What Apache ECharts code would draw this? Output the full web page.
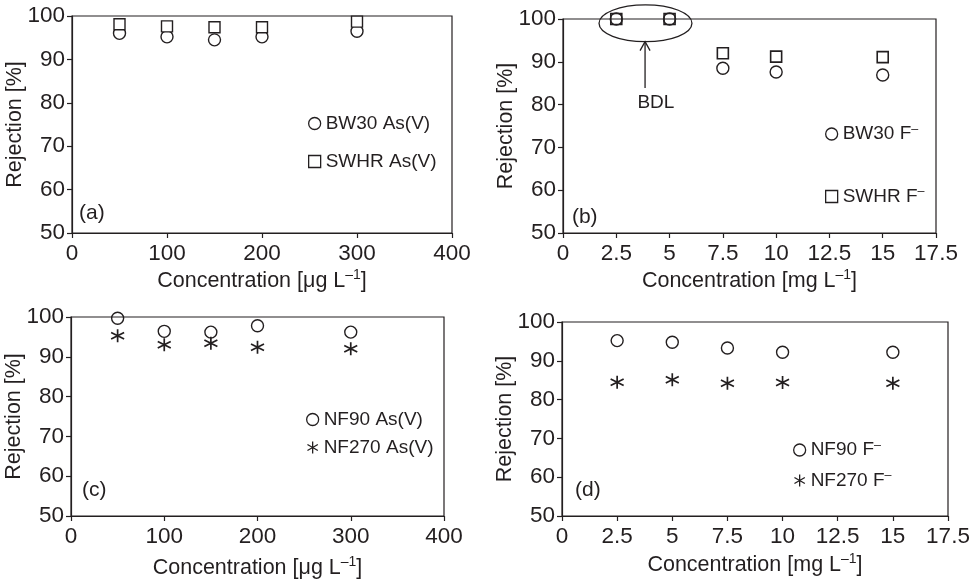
<!DOCTYPE html>
<html><head><meta charset="utf-8">
<script src="https://cdn.jsdelivr.net/npm/echarts@6/dist/echarts.min.js"></script>
<style>html,body{margin:0;padding:0;background:#fff}#c{width:974px;height:581px}</style>
</head><body><div id="c"></div>
<script>
// ---- data ----
const xAs = [50, 100, 150, 200, 300];          // µg/L
const xF = [2.5, 5, 7.5, 10, 15];              // mg/L
const bw30As = [96.0, 95.2, 94.5, 95.2, 96.5];
const swhrAs = [98.1, 97.6, 97.4, 97.4, 98.7];
const bw30F = [100, 100, 88.5, 87.6, 86.9];
const swhrF = [100, 100, 92.0, 91.2, 91.1];
const nf90As = [99.7, 96.4, 96.2, 97.8, 96.2];
const nf270As = [95.3, 93.0, 93.4, 92.4, 92.0];
const nf90F = [95.2, 94.8, 93.3, 92.2, 92.2];
const nf270F = [84.5, 85.1, 84.2, 84.4, 84.2];
const panelLabels = ['(a)', '(b)', '(c)', '(d)'];
const yTitle = 'Rejection [%]';

const INK = '#231f20';
const FONT = '"Liberation Sans", Arial, Helvetica, sans-serif';
const STAR = 'path://M10,0L10,20M1.34,5L18.66,15M1.34,15L18.66,5';

const grids = [
  {left: 72, top: 16, width: 380, height: 217},
  {left: 563, top: 19, width: 373, height: 214},
  {left: 71, top: 317, width: 373, height: 199},
  {left: 562, top: 322, width: 386, height: 194}
].map(g => Object.assign(g, {show: true, borderColor: INK, borderWidth: 1.2, backgroundColor: 'transparent'}));

const supRich = {
  n: {fontSize: 21.5, fontFamily: FONT, color: INK},
  s: {fontSize: 14, fontFamily: FONT, color: INK, verticalAlign: 'top', lineHeight: 26}
};
function xAxis(i, max, interval, unit, gap) {
  return {
    type: 'value', gridIndex: i, min: 0, max: max, interval: interval,
    name: '{n|Concentration [' + unit + ' L}{s|\u20131}{n|]}',
    nameLocation: 'middle', nameGap: gap, nameMoveOverlap: false,
    nameTextStyle: {rich: supRich},
    axisLine: {lineStyle: {color: INK, width: 1.2}},
    axisTick: {show: true, inside: false, length: 5, lineStyle: {color: INK, width: 1.2}},
    axisLabel: {fontSize: 22.5, fontFamily: FONT, color: INK, margin: 9},
    splitLine: {show: false}
  };
}
function yAxis(i) {
  return {
    type: 'value', gridIndex: i, min: 50, max: 100, interval: 10,
    name: yTitle, nameLocation: 'middle', nameGap: 46, nameMoveOverlap: false,
    nameTextStyle: {fontSize: 21.5, fontFamily: FONT, color: INK},
    axisLine: {show: true, lineStyle: {color: INK, width: 1.2}},
    axisTick: {show: true, inside: false, length: 5, lineStyle: {color: INK, width: 1.2}},
    axisLabel: {fontSize: 22.5, fontFamily: FONT, color: INK, margin: 7},
    splitLine: {show: false}
  };
}
function pts(xs, ys) { return xs.map((x, k) => [x, ys[k]]); }
function ser(name, i, xs, ys, symbol, size, fill, bw) {
  return {
    type: 'scatter', name: name, xAxisIndex: i, yAxisIndex: i, clip: false,
    symbol: symbol, symbolSize: size,
    itemStyle: {color: fill, borderColor: INK, borderWidth: bw, opacity: 1},
    emphasis: {disabled: true},
    data: pts(xs, ys)
  };
}
const legRich = {
  t: {fontSize: 19, fontFamily: FONT, color: INK, lineHeight: 22},
  s: {fontSize: 12.5, fontFamily: FONT, color: INK, verticalAlign: 'top', lineHeight: 22}
};
const legFmt = {
  'BW30 As(V)': '{t|BW30 As(V)}', 'SWHR As(V)': '{t|SWHR As(V)}',
  'BW30 F': '{t|BW30 F}{s|\u2013}', 'SWHR F': '{t|SWHR F}{s|\u2013}',
  'NF90 As(V)': '{t|NF90 As(V)}', 'NF270 As(V)': '{t|NF270 As(V)}',
  'NF90 F': '{t|NF90 F}{s|\u2013}', 'NF270 F': '{t|NF270 F}{s|\u2013}'
};
function legend(names, left, top, gap) {
  return {
    data: names, orient: 'vertical', left: left, top: top, itemGap: gap,
    itemWidth: 12, itemHeight: 12, itemStyle: {borderColor: INK, borderWidth: 1.3},
    selectedMode: false, padding: 0,
    formatter: n => legFmt[n], textStyle: {rich: legRich}
  };
}

const chart = echarts.init(document.getElementById('c'), null, {renderer: 'canvas'});
chart.setOption({
  animation: false,
  backgroundColor: '#fff',
  textStyle: {fontFamily: FONT},
  grid: grids,
  xAxis: [xAxis(0, 400, 100, '\u03bcg', 35), xAxis(1, 17.5, 2.5, 'mg', 35), xAxis(2, 400, 100, '\u03bcg', 39), xAxis(3, 17.5, 2.5, 'mg', 36)],
  yAxis: [yAxis(0), yAxis(1), yAxis(2), yAxis(3)],
  legend: [
    legend(['BW30 As(V)', 'SWHR As(V)'], 308, 114, 19),
    legend(['BW30 F', 'SWHR F'], 825, 123, 42),
    legend(['NF90 As(V)', 'NF270 As(V)'], 306, 410, 9),
    legend(['NF90 F', 'NF270 F'], 793, 439, 10)
  ],
  series: [
    ser('BW30 As(V)', 0, xAs, bw30As, 'circle', 12, 'transparent', 1.4),
    ser('SWHR As(V)', 0, xAs, swhrAs, 'rect', 11, '#fff', 1.4),
    ser('BW30 F', 1, xF, bw30F, 'circle', 12, 'transparent', 1.4),
    ser('SWHR F', 1, xF, swhrF, 'rect', 11, 'transparent', 1.6),
    ser('NF90 As(V)', 2, xAs, nf90As, 'circle', 12, 'transparent', 1.4),
    ser('NF270 As(V)', 2, xAs, nf270As, STAR, 13, 'transparent', 1.7),
    ser('NF90 F', 3, xF, nf90F, 'circle', 12, 'transparent', 1.4),
    ser('NF270 F', 3, xF, nf270F, STAR, 13, 'transparent', 1.7)
  ]
});

// annotations placed in data coordinates
const labelPos = [[7.4, 54.6], [0.42, 53.7], [11.8, 56.5], [0.59, 56.6]];
const bdlEllipse = {cx: 3.87, cy: 99.0, rx: 2.18, ry: 4.3};
const bdlArrow = {x: 3.85, y0: 83.9, y1: 94.7};
const bdlText = [4.36, 80.4];

const P = (g, p) => chart.convertToPixel({gridIndex: g}, p);
const gfx = [];
labelPos.forEach((p, g) => {
  const q = P(g, p);
  gfx.push({type: 'text', x: q[0], y: q[1], style: {text: panelLabels[g], font: '21px ' + FONT, fill: INK, textVerticalAlign: 'middle', textAlign: 'left'}});
});
const c = P(1, [bdlEllipse.cx, bdlEllipse.cy]);
const e2 = P(1, [bdlEllipse.cx + bdlEllipse.rx, bdlEllipse.cy - bdlEllipse.ry]);
gfx.push({type: 'ellipse', shape: {cx: c[0], cy: c[1], rx: e2[0] - c[0], ry: e2[1] - c[1]}, style: {fill: 'none', stroke: INK, lineWidth: 1.3}});
const a0 = P(1, [bdlArrow.x, bdlArrow.y0]);
const a1 = P(1, [bdlArrow.x, bdlArrow.y1]);
gfx.push({type: 'line', shape: {x1: a0[0], y1: a0[1], x2: a1[0], y2: a1[1]}, style: {stroke: INK, lineWidth: 1.3}});
gfx.push({type: 'polyline', shape: {points: [[a1[0] - 5, a1[1] + 9], [a1[0], a1[1]], [a1[0] + 5, a1[1] + 9]]}, style: {fill: 'none', stroke: INK, lineWidth: 1.3}});
const bt = P(1, bdlText);
gfx.push({type: 'text', x: bt[0], y: bt[1], style: {text: 'BDL', font: '19px ' + FONT, fill: INK, textAlign: 'center', textVerticalAlign: 'middle'}});
chart.setOption({graphic: gfx});
</script>
</body></html>
